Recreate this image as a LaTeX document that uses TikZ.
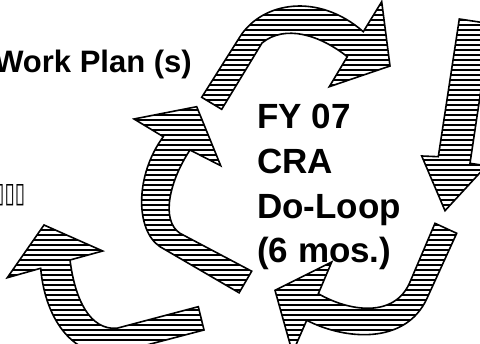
\documentclass[tikz,border=0pt]{standalone}
\usepackage{fontspec}
\setmainfont{Liberation Sans}
\newfontfamily\boxfont{DejaVu Sans}
\tikzset{
  outline/.style={draw=black,line width=1.6pt,line join=miter},
  hatchline/.style={draw=black,line width=1.2pt},
  bigtext/.style={inner sep=0pt,font=\bfseries\fontsize{35}{40}\selectfont},
}
\newcommand\hatchshape[1]{%
  \begin{scope}
    \clip #1;
    \foreach \yy in {0,5,...,360} \draw[hatchline] (-10,\yy) -- (500,\yy);
  \end{scope}
  \draw[outline] #1;}
\begin{document}
\begin{tikzpicture}[x=1pt,y=-1pt]
\useasboundingbox (0,0) rectangle (480,344);
\begin{scope}
\clip (0,0) rectangle (480,344);
% top arrow
\hatchshape{(201.7,97.3) -- (240,36.7) .. controls (262,2) and (318,-8) .. (363.3,31.7) -- (381.7,1.7) -- (390,66) -- (329.3,86.7) -- (347.3,56.7) .. controls (320,35) and (285,24) .. (262,43) -- (221.7,109.3) -- cycle}
% right arrow
\hatchshape{(459.3,19) -- (490.9,23.8) -- (470,163.3) -- (486.4,165.8) -- (445,210.7) -- (421.7,156) -- (438.3,156.7) -- cycle}
% bottom right arrow
\hatchshape{(435,223.3) -- (456.7,233.3) -- (426.7,299) .. controls (405,345) and (345,340) .. (306.7,320.3) -- (292.5,352.8) -- (275,290.3) -- (331.7,262) -- (318.3,293.7) .. controls (350,312) and (395,318) .. (410,282) -- cycle}
% left middle arrow
\hatchshape{(134,119) -- (196.7,106.7) -- (220.7,165.7) -- (190,150) .. controls (170,180) and (160,220) .. (180,233.3) -- (251.7,271.2) -- (239.1,292.8) -- (160,246.7) .. controls (135,230) and (135,175) .. (163.3,136.7) -- cycle}
% bottom left arrow
\hatchshape{(44,225) -- (102.7,251) -- (70,260) .. controls (75,300) and (90,330) .. (116.7,328.3) -- (198.3,306.7) -- (204,330) -- (120,352) .. controls (75,362) and (45,320) .. (40.7,268.3) -- (7.3,277.7) -- cycle}
\node[inner sep=0pt,anchor=base east,font=\bfseries\fontsize{31}{34}\selectfont] (wp) at (192,73) {Work Plan (s)};
\node[inner sep=0pt,anchor=south west,font=\boxfont\fontsize{14}{16}\selectfont] (tofu) at (-6,206) {\resizebox{31pt}{18pt}{▯▯▯}};
\end{scope}
\node[bigtext,anchor=base west] (l1) at (257,128.3) {FY 07};
\node[bigtext,anchor=base west] (l2) at (257,174) {CRA};
\node[bigtext,anchor=base west] (l3) at (257,218.3) {Do-Loop};
\node[bigtext,anchor=base west] (l4) at (257,262.3) {(6 mos.)};
\end{tikzpicture}
\end{document}
